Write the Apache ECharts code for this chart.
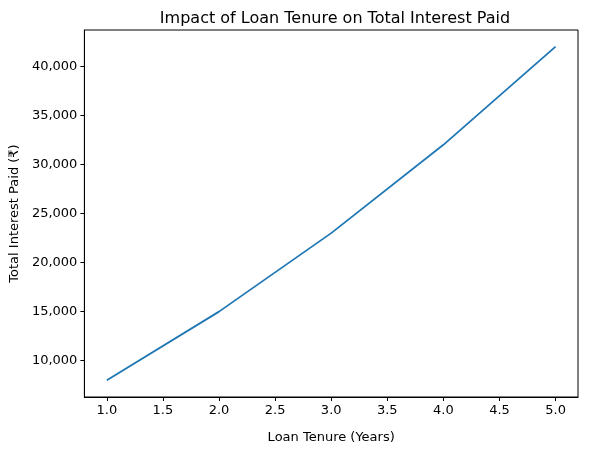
<!DOCTYPE html>
<html style="height: 100%">
<head>
	<meta charset="utf-8">
</head>
<body style="height: 100%; margin: 0; background: #fff">
<div id="container" style="width: 589px; height: 455px"></div>
<script type="text/javascript" src="https://cdn.jsdelivr.net/npm/echarts@6/dist/echarts.min.js"></script>
<script type="text/javascript">
    var tenureYears = [1, 2, 3, 4, 5];
    var interestPaid = [8000, 15000, 23000, 32000, 42000];
    var xTicks = [1.0, 1.5, 2.0, 2.5, 3.0, 3.5, 4.0, 4.5, 5.0];
    var yTicks = [10000, 15000, 20000, 25000, 30000, 35000, 40000];

    var myChart = echarts.init(document.getElementById('container'));
    var font = 'DejaVu Sans';

    var points = tenureYears.map(function (x, i) { return [x, interestPaid[i]]; });

    var option = {
        animation: false,
        backgroundColor: '#fff',
        textStyle: { fontFamily: font },
        title: {
            text: 'Impact of Loan Tenure on Total Interest Paid',
            left: 330, top: 6, textAlign: 'center',
            textStyle: { fontFamily: font, fontSize: 16, fontWeight: 'normal', color: '#000' }
        },
        grid: {
            left: 82, right: 11, top: 30, bottom: 58,
            show: true, borderColor: '#000', borderWidth: 1
        },
        xAxis: {
            type: 'value', min: 0.8, max: 5.2,
            name: 'Loan Tenure (Years)', nameLocation: 'middle', nameGap: 34,
            nameTextStyle: { fontFamily: font, fontSize: 13, color: '#000' },
            axisLine: { lineStyle: { color: '#000' } },
            axisTick: { show: true, length: 4, lineStyle: { color: '#000' }, customValues: xTicks },
            axisLabel: { color: '#000', fontSize: 13, fontFamily: font, margin: 7, customValues: xTicks,
                formatter: function (v) { return v.toFixed(1); } },
            splitLine: { show: false }
        },
        yAxis: {
            type: 'value', min: 6300, max: 43700,
            name: 'Total Interest Paid (₹)', nameLocation: 'middle', nameGap: 62,
            nameTextStyle: { fontFamily: font, fontSize: 13, color: '#000' },
            axisLine: { show: true, lineStyle: { color: '#000' } },
            axisTick: { show: true, length: 4, lineStyle: { color: '#000' }, customValues: yTicks },
            axisLabel: { color: '#000', fontSize: 13, fontFamily: font, margin: 7, customValues: yTicks },
            splitLine: { show: false }
        },
        series: [{
            type: 'line',
            data: points,
            showSymbol: false,
            lineStyle: { color: '#1f77b4', width: 1.8 }
        }]
    };
    myChart.setOption(option);
</script>
</body>
</html>
